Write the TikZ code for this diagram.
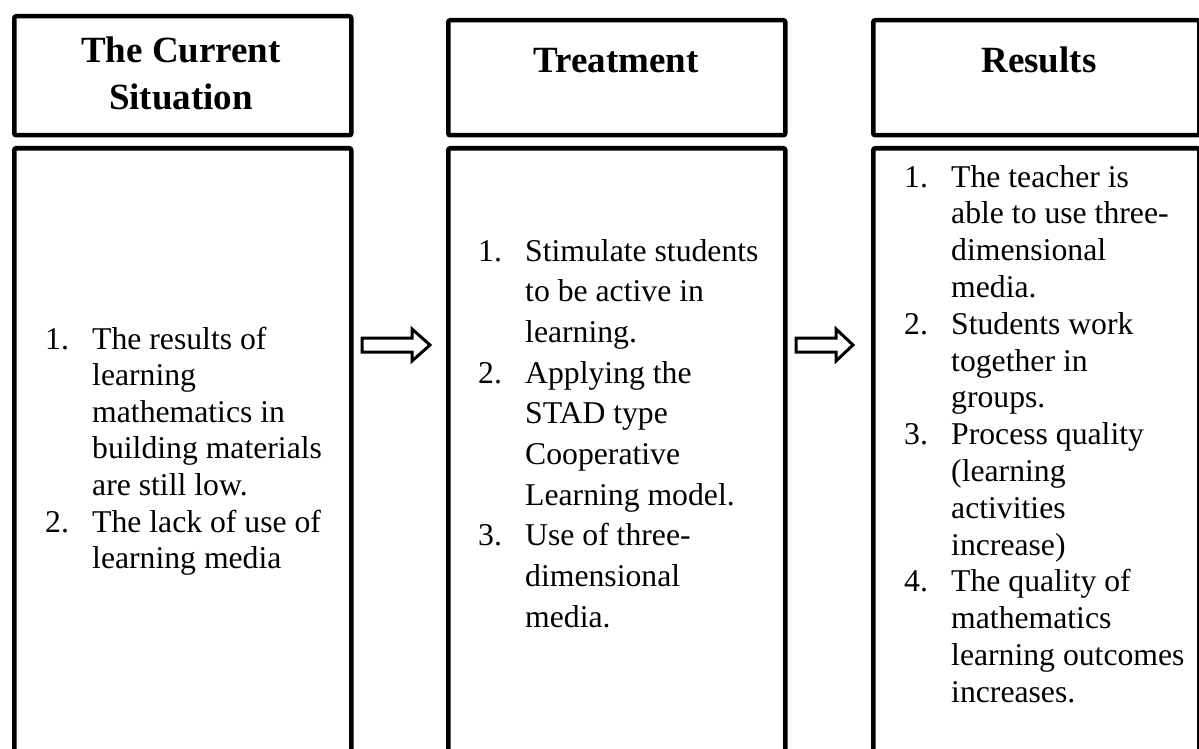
\documentclass[tikz,border=0pt]{standalone}
\usepackage{fontspec}
\setmainfont{Liberation Serif}
\usetikzlibrary{calc}
\tikzset{
  boxst/.style={draw, line width=4.5pt, rounded corners=2pt, inner sep=0pt, anchor=north west},
  headst/.style={font=\fontsize{37}{47}\selectfont\bfseries, inner sep=0pt, anchor=base},
  listst/.style={inner sep=0pt, anchor=base west},
  blockarrow/.style={draw, line width=3pt, line join=miter}
}
\newcommand{\nm}[1]{\makebox[47pt][l]{#1}}
\begin{document}
\begin{tikzpicture}[x=1pt,y=-1pt]
\useasboundingbox (0,0) rectangle (1199,749);
\clip (0,0) rectangle (1199,749);
% header boxes
\node[boxst, minimum width=337pt, minimum height=119pt] (h1) at (12,14) {};
\node[boxst, minimum width=337pt, minimum height=115pt] (h2) at (446,18) {};
\node[boxst, minimum width=326pt, minimum height=115pt] (h3) at (871,18) {};
% body boxes
\node[boxst, minimum width=337pt, minimum height=654pt] (b1) at (12,146) {};
\node[boxst, minimum width=337pt, minimum height=654pt] (b2) at (446,146) {};
\node[boxst, minimum width=326pt, minimum height=654pt] (b3) at (871,146) {};
% headings
\node[headst] (t1) at (181,63) {\begin{tabular}[t]{@{}c@{}}The Current\\Situation\end{tabular}};
\node[headst] (t2) at (616,73) {Treatment};
\node[headst] (t3) at (1039,73) {Results};
% lists
\node[listst] (l1) at (45,349) {\fontsize{31.7}{36.6}\selectfont
\begin{tabular}[t]{@{}l@{}l@{}}
\nm{1.}&The results of\\
&learning\\
&mathematics in\\
&building materials\\
&are still low.\\
\nm{2.}&The lack of use of\\
&learning media
\end{tabular}};
\node[listst] (l2) at (478,261) {\fontsize{31.7}{40.7}\selectfont
\begin{tabular}[t]{@{}l@{}l@{}}
\nm{1.}&Stimulate students\\
&to be active in\\
&learning.\\
\nm{2.}&Applying the\\
&STAD type\\
&Cooperative\\
&Learning model.\\
\nm{3.}&Use of three-\\
&dimensional\\
&media.
\end{tabular}};
\node[listst] (l3) at (904,187) {\fontsize{31.7}{36.8}\selectfont
\begin{tabular}[t]{@{}l@{}l@{}}
\nm{1.}&The teacher is\\
&able to use three-\\
&dimensional\\
&media.\\
\nm{2.}&Students work\\
&together in\\
&groups.\\
\nm{3.}&Process quality\\
&(learning\\
&activities\\
&increase)\\
\nm{4.}&The quality of\\
&mathematics\\
&learning outcomes\\
&increases.
\end{tabular}};
% block arrows
\coordinate (a1) at (362,345);
\coordinate (a2) at (796,345);
\draw[blockarrow] (a1) ++(0,-7) -- ++(50,0) -- ++(0,-9) -- ++(18,16) -- ++(-18,16) -- ++(0,-9) -- ++(-50,0) -- cycle;
\draw[blockarrow] (a2) ++(0,-7) -- ++(40,0) -- ++(0,-9) -- ++(17,16) -- ++(-17,16) -- ++(0,-9) -- ++(-40,0) -- cycle;
\end{tikzpicture}
\end{document}
